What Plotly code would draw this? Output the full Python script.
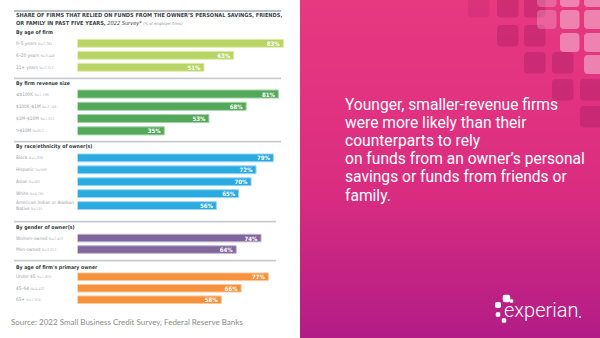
import plotly.graph_objects as go

# ---------------- data ----------------
age_labels = ["0–5 years", "6–20 years", "21+ years"]
age_n = ["N=2,264", "N=3,446", "N=2,313"]
age_vals = [83, 63, 51]

rev_labels = ["≤$100K", "$100K–$1M", "$1M–$10M", ">$10M"]
rev_n = ["N=1,286", "N=3,749", "N=1,812", "N=812"]
rev_vals = [81, 68, 53, 35]

race_labels = ["Black", "Hispanic", "Asian", "White", "American Indian or Alaskan<br>Native"]
race_n = ["N=1,836", "N=908", "N=563", "N=4,761", "N=135"]
race_vals = [79, 72, 70, 65, 56]

gender_labels = ["Women-owned", "Men-owned"]
gender_n = ["N=2,403", "N=3,322"]
gender_vals = [74, 64]

owner_labels = ["Under 45", "45–64", "65+"]
owner_n = ["N=1,605", "N=4,432", "N=1,924"]
owner_vals = [77, 66, 58]

group_titles = ["By age of firm", "By firm revenue size", "By race/ethnicity of owner(s)",
                "By gender of owner(s)", "By age of firm's primary owner"]

headline_lines = ["Younger, smaller-revenue firms", "were more likely than their",
                  "counterparts to rely", "on funds from an owner’s personal",
                  "savings or funds from friends or", "family."]

# ---------------- layout helpers ----------------
W, H = 600, 338
NARROW = "Liberation Sans Narrow, Arial Narrow, DejaVu Sans Condensed, sans-serif"


def px(x):
    return x / W


def py(y):
    return 1 - y / H


groups = [
    dict(labels=age_labels, n=age_n, vals=age_vals, color="#b8d464", edge="#dcebb0",
         dom=(37.3, 73.3), head=33.0),
    dict(labels=rev_labels, n=rev_n, vals=rev_vals, color="#53a85a", edge="#a9d4ad",
         dom=(87.9, 137.0), head=83.3),
    dict(labels=race_labels, n=race_n, vals=race_vals, color="#29aae1", edge="#9dd8f1",
         dom=(151.9, 213.1), head=146.7),
    dict(labels=gender_labels, n=gender_n, vals=gender_vals, color="#80669c", edge="#c2b4d0",
         dom=(232.3, 255.3), head=227.7),
    dict(labels=owner_labels, n=owner_n, vals=owner_vals, color="#f7923c", edge="#fbc99e",
         dom=(271.0, 305.5), head=267.3),
]

fig = go.Figure()
annotations = []
shapes = []
layout_axes = {}

for i, g in enumerate(groups, start=1):
    xa = "x" if i == 1 else f"x{i}"
    ya = "y" if i == 1 else f"y{i}"
    fig.add_trace(go.Bar(
        x=g["vals"], y=g["labels"], orientation="h",
        xaxis=xa, yaxis=ya,
        marker=dict(color=g["color"], line=dict(color=g["edge"], width=1)),
        text=[f"{v}%" for v in g["vals"]],
        textposition="inside", insidetextanchor="end",
        textfont=dict(family=NARROW, size=6, color="white", weight="bold"),
        cliponaxis=False, hoverinfo="skip", showlegend=False,
    ))
    layout_axes["xaxis" if i == 1 else f"xaxis{i}"] = dict(
        domain=[px(77.5), px(325.5)], range=[0, 100], visible=False,
        anchor=ya, fixedrange=True)
    layout_axes["yaxis" if i == 1 else f"yaxis{i}"] = dict(
        domain=[py(g["dom"][1]), py(g["dom"][0])], type="category",
        categoryorder="array", categoryarray=g["labels"], autorange="reversed",
        visible=False, anchor=xa, fixedrange=True)

    # group header
    annotations.append(dict(
        xref="paper", yref="paper", x=px(14), y=py(g["head"]),
        xanchor="left", yanchor="middle", showarrow=False,
        text=f"<b>{group_titles[i - 1]}</b>",
        font=dict(family=NARROW, size=5.2, color="#333a40")))

    # category labels with sample sizes
    for lab, n in zip(g["labels"], g["n"]):
        annotations.append(dict(
            xref="paper", yref=ya, x=px(14), y=lab,
            xanchor="left", yanchor="middle", align="left", showarrow=False,
            text=f"{lab} <span style='font-size:3.6px;color:#b8bcc2'>{n}</span>",
            font=dict(family=NARROW, size=4.7, color="#9ca1a8")))

# separator rules
rules = [(11.0, 281, "#a3a8ae", 1.6), (78.3, 281, "#c8cbcf", 1.8), (141.7, 281, "#c8cbcf", 1.8),
         (221.7, 276, "#c8cbcf", 1.8), (260.7, 276, "#c8cbcf", 1.8)]
for yy, x1, col, w in rules:
    shapes.append(dict(type="line", xref="paper", yref="paper",
                       x0=px(14), x1=px(x1), y0=py(yy), y1=py(yy),
                       line=dict(color=col, width=w)))

# chart title
annotations.append(dict(
    xref="paper", yref="paper", x=px(14), y=py(15.4), xanchor="left", yanchor="middle",
    showarrow=False,
    text="<b>SHARE OF FIRMS THAT RELIED ON FUNDS FROM THE OWNER’S PERSONAL SAVINGS, FRIENDS,</b>",
    font=dict(family=NARROW, size=5.6, color="#3d444b")))
annotations.append(dict(
    xref="paper", yref="paper", x=px(14), y=py(23.3), xanchor="left", yanchor="middle",
    showarrow=False,
    text="<b>OR FAMILY IN PAST FIVE YEARS,</b> <i>2022 Survey*</i> "
         "<span style='font-size:4px;color:#8f949b'>(% of employer firms)</span>",
    font=dict(family=NARROW, size=5.6, color="#3d444b")))

# source line
annotations.append(dict(
    xref="paper", yref="paper", x=px(9), y=py(322), xanchor="left", yanchor="middle",
    showarrow=False, text="Source: 2022 Small Business Credit Survey, Federal Reserve Banks",
    font=dict(family="Lato, sans-serif", size=8, color="#8c8c8c")))

# ---------------- right-hand gradient panel ----------------
stops = [(0.0, (231, 57, 128)), (0.55, (219, 45, 128)), (1.0, (178, 28, 134))]


def grad(t):
    for (t0, c0), (t1, c1) in zip(stops[:-1], stops[1:]):
        if t <= t1:
            f = (t - t0) / (t1 - t0)
            return "rgb(%d,%d,%d)" % tuple(round(a + (b - a) * f) for a, b in zip(c0, c1))
    return "rgb(%d,%d,%d)" % stops[-1][1]


band = 2
for y0 in range(0, H, band):
    shapes.append(dict(type="rect", xref="paper", yref="paper", layer="below",
                       x0=px(300), x1=1.0, y0=py(y0 + band + 0.5), y1=py(y0),
                       fillcolor=grad((y0 + band / 2) / H), line=dict(width=0)))


def rounded(x0, y0, x1, y1, r, fill):
    # rounded square given in pixel units, converted to paper coordinates
    X = lambda v: px(v)
    Y = lambda v: py(v)
    p = (f"M {X(x0 + r)},{Y(y0)} L {X(x1 - r)},{Y(y0)} Q {X(x1)},{Y(y0)} {X(x1)},{Y(y0 + r)} "
         f"L {X(x1)},{Y(y1 - r)} Q {X(x1)},{Y(y1)} {X(x1 - r)},{Y(y1)} "
         f"L {X(x0 + r)},{Y(y1)} Q {X(x0)},{Y(y1)} {X(x0)},{Y(y1 - r)} "
         f"L {X(x0)},{Y(y0 + r)} Q {X(x0)},{Y(y0)} {X(x0 + r)},{Y(y0)} Z")
    return dict(type="path", xref="paper", yref="paper", path=p,
                fillcolor=fill, line=dict(width=0), layer="above")


dark = "rgba(150,20,90,0.30)"
dark_faint = "rgba(150,20,90,0.15)"
light = "rgba(255,255,255,0.38)"
light_faint = "rgba(255,255,255,0.22)"
dark_sq = [(468, -4, dark_faint), (497, -4, dark), (524, -4, dark),
           (497, 25, dark), (524, 25, dark),
           (524, 52, dark), (552, 52, dark),
           (552, 79, dark), (580, 79, dark),
           (580, 106, dark)]
for x0, y0, c in dark_sq:
    shapes.append(rounded(x0, y0, x0 + 21.5, y0 + 21.5, 4, c))
light_sq = [(537, -12, light_faint), (560, -12, light), (584, -12, light),
            (537, 10, light_faint), (560, 10, light), (584, 10, light),
            (560, 33, light), (584, 33, light),
            (584, 55, light)]
for x0, y0, c in light_sq:
    shapes.append(rounded(x0, y0, x0 + 19.5, y0 + 19, 4, c))

# headline text, one annotation per line
for k, line in enumerate(headline_lines):
    annotations.append(dict(
        xref="paper", yref="paper", x=px(343), y=py(105 + 18.1 * k),
        xanchor="left", yanchor="middle", align="left", showarrow=False,
        text=line, font=dict(family="Roboto, sans-serif", size=15.6, color="white")))

# logo
annotations.append(dict(
    xref="paper", yref="paper", x=px(502), y=py(310), xanchor="left", yanchor="middle",
    showarrow=False, text="experian",
    font=dict(family="Roboto, sans-serif", size=20, color="white", weight=300)))
shapes.append(dict(type="circle", xref="paper", yref="paper", x0=px(579), x1=px(581),
                   y0=py(318), y1=py(316), fillcolor="white", line=dict(width=0)))
for cx, cy, s in [(506.5, 298.5, 7.5), (498, 305, 6), (511.5, 301, 3.5),
                  (498, 314.5, 4.5), (504, 320.5, 4.5)]:
    shapes.append(rounded(cx - s / 2, cy - s / 2, cx + s / 2, cy + s / 2, s * 0.3, "white"))

fig.update_layout(
    width=W, height=H, margin=dict(l=0, r=0, t=0, b=0),
    paper_bgcolor="white", plot_bgcolor="rgba(0,0,0,0)",
    bargap=0.34, annotations=annotations, shapes=shapes,
    uniformtext=dict(minsize=5, mode="show"),
    **layout_axes,
)

fig.write_html("out.html", config={"displayModeBar": False})
